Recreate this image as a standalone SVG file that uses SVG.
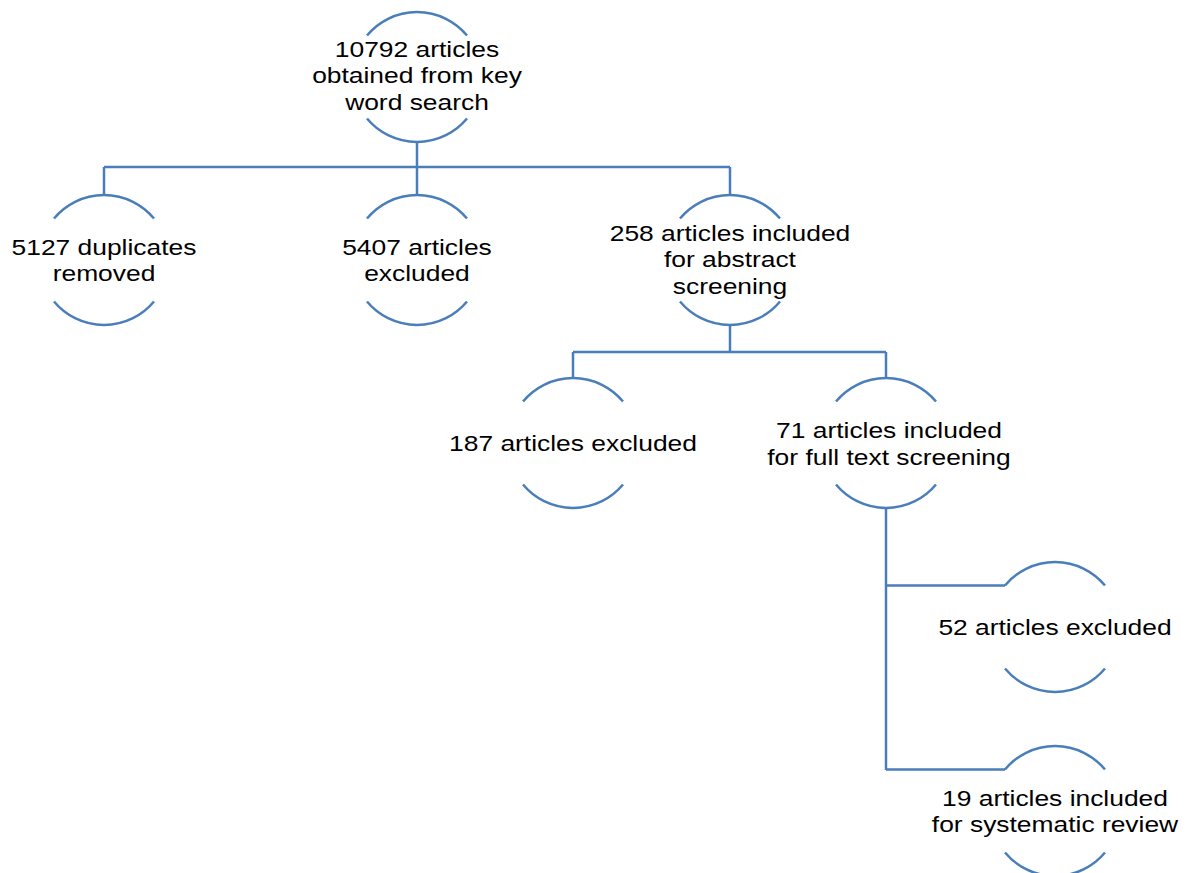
<svg xmlns="http://www.w3.org/2000/svg" width="1187" height="873" viewBox="0 0 1187 873">
<style>
.arc{fill:none;stroke:#4a7ebb;stroke-width:2.5}
.con{fill:none;stroke:#4a7ebb;stroke-width:2.5}
text{font-family:"Liberation Sans",Arial,sans-serif;font-size:22px;fill:#000;text-anchor:middle}
</style>
<rect width="1187" height="873" fill="#fff"/>
<g id="connectors" class="con">
<path d="M417 142V167M104 167H730M104 167V195M417 167V195M730 167V195"/>
<path d="M730 325V352M573 352H886M573 352V378M886 352V378"/>
<path d="M886 508V770M886 585.5H1005M886 769.5H1005"/>
</g>
<g id="n1">
<path class="arc" d="M367 35.5A65 65 0 0 1 467 35.5M367 118.5A65 65 0 0 0 467 118.5"/>
<text transform="matrix(1.2 0 0 1 -83.4 0)"><tspan x="417" y="57">10792 articles</tspan><tspan x="417" y="83.5">obtained from key</tspan><tspan x="417" y="110">word search</tspan></text>
</g>
<g id="n2">
<path class="arc" d="M54 218.5A65 65 0 0 1 154 218.5M54 301.5A65 65 0 0 0 154 301.5"/>
<text transform="matrix(1.2 0 0 1 -20.8 0)"><tspan x="104" y="255">5127 duplicates</tspan><tspan x="104" y="281.5">removed</tspan></text>
</g>
<g id="n3">
<path class="arc" d="M367 218.5A65 65 0 0 1 467 218.5M367 301.5A65 65 0 0 0 467 301.5"/>
<text transform="matrix(1.2 0 0 1 -83.4 0)"><tspan x="417" y="255">5407 articles</tspan><tspan x="417" y="281.5">excluded</tspan></text>
</g>
<g id="n4">
<path class="arc" d="M680 218.5A65 65 0 0 1 780 218.5M680 301.5A65 65 0 0 0 780 301.5"/>
<text transform="matrix(1.2 0 0 1 -146 0)"><tspan x="730" y="241">258 articles included</tspan><tspan x="730" y="267.5">for abstract</tspan><tspan x="730" y="294">screening</tspan></text>
</g>
<g id="n5">
<path class="arc" d="M523 401.5A65 65 0 0 1 623 401.5M523 484.5A65 65 0 0 0 623 484.5"/>
<text transform="matrix(1.2 0 0 1 -114.6 0)"><tspan x="573" y="451">187 articles excluded</tspan></text>
</g>
<g id="n6">
<path class="arc" d="M836 401.5A65 65 0 0 1 936 401.5M836 484.5A65 65 0 0 0 936 484.5"/>
<text transform="matrix(1.2 0 0 1 -177.8 0)"><tspan x="889" y="438.5">71 articles included</tspan><tspan x="889" y="465">for full text screening</tspan></text>
</g>
<g id="n7">
<path class="arc" d="M1005 585.5A65 65 0 0 1 1105 585.5M1005 668.5A65 65 0 0 0 1105 668.5"/>
<text transform="matrix(1.2 0 0 1 -211 0)"><tspan x="1055" y="635">52 articles excluded</tspan></text>
</g>
<g id="n8">
<path class="arc" d="M1005 769.5A65 65 0 0 1 1105 769.5M1005 852.5A65 65 0 0 0 1105 852.5"/>
<text transform="matrix(1.2 0 0 1 -211 0)"><tspan x="1055" y="806">19 articles included</tspan><tspan x="1055" y="832.5">for systematic review</tspan></text>
</g>
</svg>
